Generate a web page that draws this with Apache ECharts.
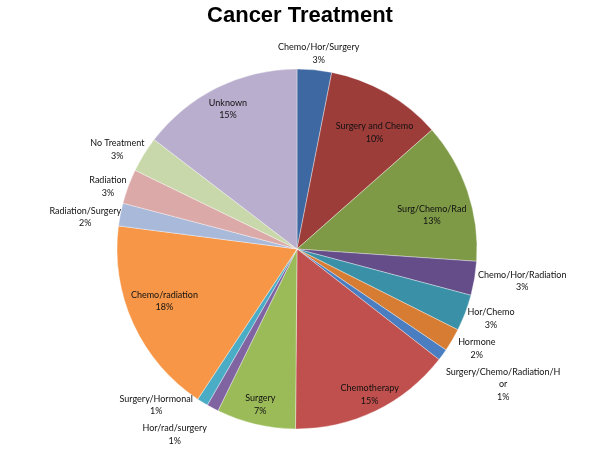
<!DOCTYPE html>
<html>
<head>
<meta charset="utf-8">
<script src="https://cdn.jsdelivr.net/npm/echarts@6/dist/echarts.min.js"></script>
<style>html,body{margin:0;padding:0;background:#fff}#c{width:600px;height:450px}</style>
</head>
<body>
<div id="c"></div>
<script>
const categories = ["Chemo/Hor/Surgery","Surgery and Chemo","Surg/Chemo/Rad","Chemo/Hor/Radiation","Hor/Chemo","Hormone","Surgery/Chemo/Radiation/Hor","Chemotherapy","Surgery","Hor/rad/surgery","Surgery/Hormonal","Chemo/radiation","Radiation/Surgery","Radiation","No Treatment","Unknown"];
const values = [3.09,10.4,12.6,3.05,3.27,2.07,1.05,14.6,7.1,1.07,1.0,17.75,2.05,3.1,3.2,14.6];
const colors = ["#3D68A1","#9D3D3A","#7E9A47","#644D88","#3A90A7","#D67C33","#4A7EC0","#C0504D","#9BBB59","#8064A2","#4BACC6","#F79646","#A9B9DA","#DBA9A8","#C9D8AA","#B9AECD"];

const CX = 297, CY = 249, R = 180;
const total = values.reduce((a, b) => a + b, 0);
const mids = [];
(function(){ let acc = 0; values.forEach(v => { mids.push(acc + v / 2); acc += v; }); })();
// small label nudges (px) imitating the original's overlap avoidance
const labelNudge = {1: [6, 8], 2: [3, 11], 5: [5, 0], 6: [11, 16], 7: [7, 10], 9: [-21, 12], 10: [-25, -11], 11: [-5, -6], 12: [4, 6], 13: [1, 6], 14: [0, 4]};

function wrapName(n) {
  const max = 25;
  return n.length > max ? n.slice(0, max) + "\n" + n.slice(max) : n;
}

const chart = echarts.init(document.getElementById('c'), null, {renderer: 'canvas'});
chart.setOption({
  animation: false,
  title: {
    text: 'Cancer Treatment', left: 'center', top: 5, padding: 0,
    textStyle: {fontFamily: 'Liberation Sans', fontWeight: 'bold', fontSize: 22, color: '#000'}
  },
  color: colors,
  series: [{
    type: 'pie',
    center: [CX, CY],
    radius: R,
    startAngle: 90,
    clockwise: true,
    avoidLabelOverlap: false,
    itemStyle: {borderColor: 'rgba(255,255,255,0.6)', borderWidth: 0.6},
    label: {
      show: true,
      fontFamily: 'Lato',
      fontSize: 9,
      lineHeight: 12.5,
      color: '#111',
      align: 'center',
      formatter: p => wrapName(p.name) + "\n" + Math.round(p.value / total * 100) + "%"
    },
    labelLine: {show: false},
    labelLayout: function (p) {
      const i = p.dataIndex;
      const ang = mids[i] / total * 2 * Math.PI;
      const dx = Math.sin(ang), dy = -Math.cos(ang);
      const w = p.labelRect.width, h = p.labelRect.height;
      let x, y;
      if (values[i] >= 5) {
        // inside: outer corner of label box sits just inside the rim
        const D = R - 4;
        const sx = Math.sign(dx) * w / 2, sy = Math.sign(dy) * h / 2;
        const us = dx * sx + dy * sy, ss = sx * sx + sy * sy;
        const t = -us + Math.sqrt(us * us - ss + D * D);
        x = CX + t * dx; y = CY + t * dy;
      } else {
        const rr = R + 4;
        x = CX + rr * dx + dx * w / 2; y = CY + rr * dy + dy * h / 2;
      }
      const n = labelNudge[i];
      if (n) { x += n[0]; y += n[1]; }
      return {x: x, y: y, align: 'center', verticalAlign: 'middle'};
    },
    data: categories.map((c, i) => ({name: c, value: values[i]}))
  }]
});
</script>
</body>
</html>
